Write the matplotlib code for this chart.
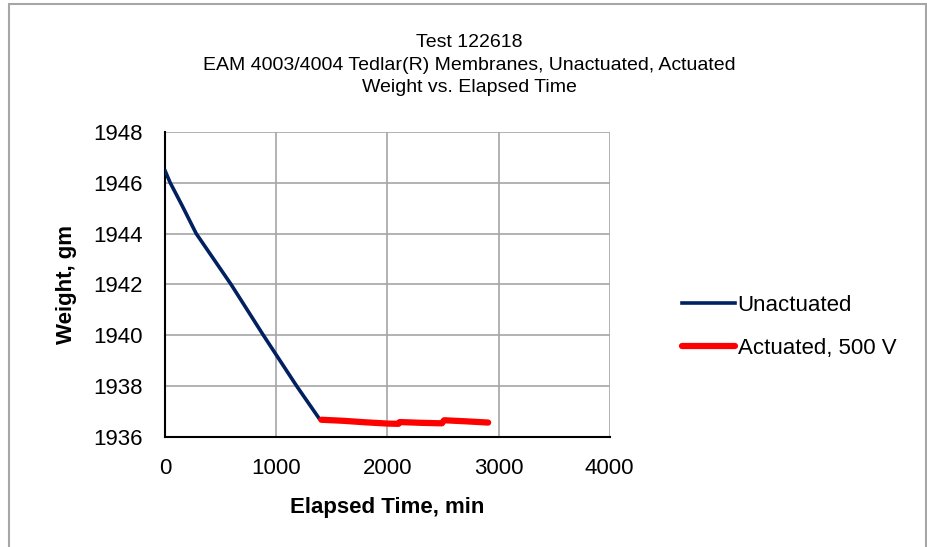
#!/usr/bin/env python3

import numpy as np
import matplotlib.pyplot as plt

plt.rcParams['font.family'] = ['Liberation Sans', 'DejaVu Sans']

#- Data
t_unact = [0, 45, 150, 279, 593, 884, 1184, 1387, 1405]
w_unact = [1946.46, 1946.0, 1945.12, 1944.0, 1942.0, 1940.0, 1938.0, 1936.72, 1936.68]

t_act = [1405, 1600, 1800, 2000, 2100, 2110, 2300, 2490, 2510, 2700, 2906]
w_act = [1936.68, 1936.64, 1936.58, 1936.53, 1936.52, 1936.59, 1936.56, 1936.54, 1936.66, 1936.62, 1936.57]

xticks = [0, 1000, 2000, 3000, 4000]
yticks = [1936, 1938, 1940, 1942, 1944, 1946, 1948]

fig = plt.figure(figsize=(9.28, 5.47), dpi=100)
ax = fig.add_axes([0.178, 0.201, 0.479, 0.558])

ax.plot(t_unact, w_unact, color="#002060", lw=2.6, label="Unactuated", zorder=3)
ax.plot(t_act, w_act, color="#ff0000", lw=4.5, label="Actuated, 500 V",
        solid_capstyle="round", zorder=4)

ax.set_xlim(0, 4000)
ax.set_ylim(1936, 1948)
ax.set_xticks(xticks)
ax.set_yticks(yticks)
ax.grid(True, color="#a6a6a6", lw=1.2)
ax.set_axisbelow(True)
for s in ["top", "right"]:
    ax.spines[s].set_visible(False)
for s in ["left", "bottom"]:
    ax.spines[s].set_linewidth(1.5)
ax.tick_params(length=0, labelsize=16)
ax.tick_params(axis="x", pad=15)
ax.tick_params(axis="y", pad=16)

ax.set_xlabel("Elapsed Time, min", fontsize=16, fontweight="bold", labelpad=13)
ax.set_ylabel("Weight, gm", fontsize=16, fontweight="bold", labelpad=12)

# title sits centred on the whole chart, not the plot area
fig.text(469/928, 1 - 65/547,
         "Test 122618\nEAM 4003/4004 Tedlar(R) Membranes, Unactuated, Actuated\nWeight vs. Elapsed Time",
         ha="center", va="center", fontsize=14, linespacing=1.45)

leg = ax.legend(loc="center left", bbox_to_anchor=(671/928, 1 - 327/547),
                bbox_transform=fig.transFigure, frameon=False, borderpad=0,
                fontsize=16, handlelength=2.4, handletextpad=0.1, labelspacing=1.0)

# grey frame round the chart like the spreadsheet border
fig.patches.append(plt.Rectangle((9/928, -0.1), (926-9)/928, 1.1 - 4/547,
                                 transform=fig.transFigure, fill=False,
                                 edgecolor="#a6a6a6", lw=1.5))

plt.savefig("out.png", dpi=100)
